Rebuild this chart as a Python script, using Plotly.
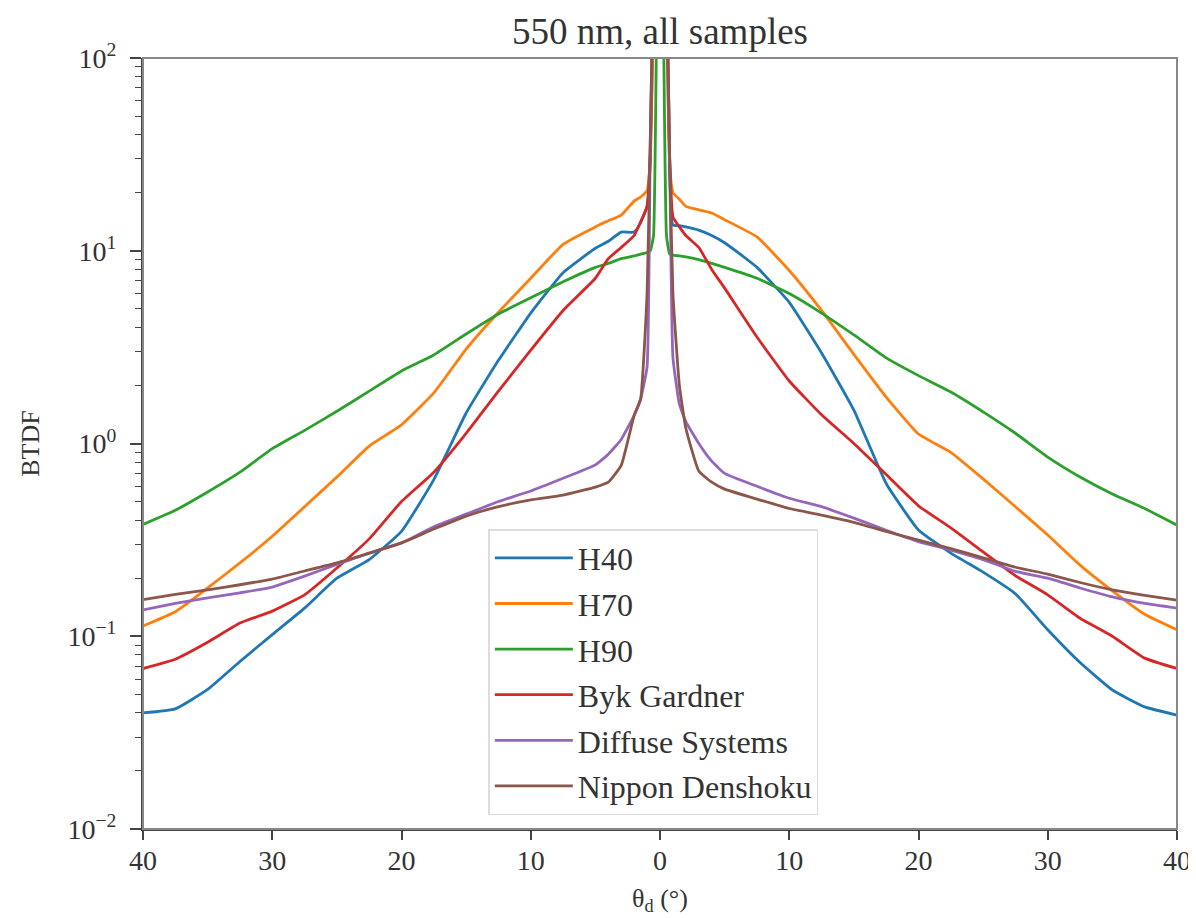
import plotly.graph_objects as go

# scattering angle grid (degrees), shared by all samples
theta = [-40, -37.5, -35, -32.5, -30, -27.5, -25, -22.5, -20, -17.5, -15, -12.5, -10, -7.5,
         -5, -4, -3, -2, -1.5, -1, -0.75, -0.5, 0, 0.5, 0.75, 1, 1.5, 2, 3, 4, 5, 7.5, 10,
         12.5, 15, 17.5, 20, 22.5, 25, 27.5, 30, 32.5, 35, 37.5, 40]

h40 = [0.040, 0.042, 0.053, 0.074, 0.102, 0.14, 0.20, 0.25, 0.35, 0.65, 1.44, 2.7, 4.75, 7.7,
       10.3, 11.2, 12.5, 12.5, 14.0, 17.0, 30, 200, 1e4, 200, 25, 13.6, 13.5, 13.3, 12.8, 12.0,
       11.0, 8.2, 5.4, 2.95, 1.49, 0.62, 0.356, 0.27, 0.215, 0.166, 0.108, 0.073, 0.0526, 0.043, 0.039]

h70 = [0.113, 0.134, 0.178, 0.24, 0.33, 0.47, 0.67, 0.97, 1.25, 1.83, 3.09, 4.8, 7.2, 10.8,
       13.3, 14.3, 15.3, 18.1, 19.0, 20.5, 30, 200, 1e4, 200, 28, 20.0, 18.5, 17.0, 16.3, 15.7,
       14.5, 11.8, 7.9, 4.9, 2.9, 1.74, 1.12, 0.90, 0.655, 0.47, 0.335, 0.234, 0.172, 0.13, 0.108]

h90 = [0.38, 0.45, 0.56, 0.71, 0.94, 1.17, 1.47, 1.87, 2.38, 2.88, 3.7, 4.7, 5.7, 6.9,
       8.2, 8.6, 9.1, 9.4, 9.6, 9.8, 10.0, 12.0, 1e4, 12.0, 9.6, 9.5, 9.4, 9.3, 9.0, 8.6,
       8.2, 7.2, 6.0, 4.75, 3.66, 2.78, 2.25, 1.85, 1.46, 1.13, 0.85, 0.67, 0.547, 0.46, 0.377]

byk = [0.068, 0.076, 0.093, 0.117, 0.135, 0.164, 0.226, 0.32, 0.50, 0.71, 1.13, 1.87, 3.05, 4.9,
       7.2, 9.1, 10.4, 12.0, 14.1, 17.0, 33, 300, 1e4, 300, 30, 15.0, 13.3, 12.0, 10.4, 8.0,
       6.4, 3.57, 2.11, 1.41, 1.0, 0.69, 0.475, 0.365, 0.274, 0.206, 0.164, 0.124, 0.10, 0.077, 0.068]

diffuse = [0.137, 0.148, 0.158, 0.168, 0.18, 0.205, 0.236, 0.27, 0.305, 0.37, 0.43, 0.50, 0.567, 0.66,
           0.775, 0.88, 1.05, 1.4, 1.7, 2.5, 38, 300, 1e4, 300, 30, 2.8, 1.6, 1.3, 1.0, 0.81,
           0.70, 0.60, 0.52, 0.47, 0.41, 0.355, 0.31, 0.28, 0.25, 0.217, 0.20, 0.178, 0.16, 0.148, 0.14]

nippon = [0.155, 0.165, 0.174, 0.185, 0.198, 0.218, 0.24, 0.27, 0.305, 0.36, 0.42, 0.47, 0.51, 0.54,
          0.594, 0.63, 0.77, 1.4, 1.7, 6.0, 38, 300, 1e4, 300, 30, 6.0, 2.0, 1.2, 0.72, 0.63,
          0.58, 0.515, 0.46, 0.425, 0.39, 0.35, 0.315, 0.285, 0.255, 0.228, 0.21, 0.19, 0.174, 0.163, 0.154]

series = [
    ("H40", h40, "#1f77b4"),
    ("H70", h70, "#ff7f0e"),
    ("H90", h90, "#2ca02c"),
    ("Byk Gardner", byk, "#d62728"),
    ("Diffuse Systems", diffuse, "#9467bd"),
    ("Nippon Denshoku", nippon, "#8c564b"),
]

x_ticks = [-40, -30, -20, -10, 0, 10, 20, 30, 40]
y_ticks = [0.01, 0.1, 1, 10, 100]
y_ticktext = ["10<sup>−2</sup>", "10<sup>−1</sup>", "10<sup>0</sup>", "10<sup>1</sup>", "10<sup>2</sup>"]
# minor ticks 2..9 in every decade
y_minor = [m * d for d in (0.01, 0.1, 1, 10) for m in range(2, 10)]

FONT = "Liberation Serif"
TXT = "#333"

fig = go.Figure()
for name, vals, color in series:
    fig.add_trace(go.Scatter(x=theta, y=vals, mode="lines", name=name, legendgroup=name,
                             line=dict(color=color, width=2.8, shape="spline", smoothing=0.4)))

# the page body keeps its default 8px margin, so the figure is 8px smaller
fig.update_layout(
    width=1188, height=910,
    margin=dict(l=135, r=19, t=50, b=89),
    paper_bgcolor="white", plot_bgcolor="white",
    font=dict(family=FONT, size=28, color=TXT),
    title=dict(text="550 nm, all samples", x=0.5, xref="paper", xanchor="center",
               y=0.975, yanchor="middle", font=dict(size=37, color=TXT)),
    showlegend=True,
    legend=dict(x=0.334, y=0.018, xanchor="left", yanchor="bottom",
                bgcolor="rgba(255,255,255,0.9)", bordercolor="#dddddd", borderwidth=1.5,
                font=dict(size=32, color=TXT), itemwidth=78, tracegroupgap=1),
    shapes=[dict(type="rect", xref="paper", yref="paper", x0=0, y0=0, x1=1, y1=1,
                 line=dict(color="#888", width=2), layer="above")],
    annotations=[dict(text="BTDF", xref="paper", yref="paper", x=-0.109, y=0.5,
                      xanchor="center", yanchor="middle", textangle=-90, showarrow=False,
                      font=dict(size=26, color=TXT))],
)

fig.update_xaxes(
    range=[-40, 40], tickvals=x_ticks, ticktext=[str(abs(v)) for v in x_ticks],
    ticks="outside", ticklen=9, tickwidth=1.5, tickcolor="#444", ticklabelstandoff=-4,
    showline=True, linecolor="#444", linewidth=2, automargin=False,
    showgrid=False, zeroline=False,
    title=dict(text="θ<sub>d</sub> (°)", standoff=14, font=dict(size=26)),
)
fig.update_yaxes(
    type="log", range=[-2, 2], tickvals=y_ticks, ticktext=y_ticktext,
    ticks="outside", ticklen=11, tickwidth=1.5, tickcolor="#444", ticklabelstandoff=8,
    minor=dict(ticks="outside", ticklen=6, tickwidth=1.2, tickcolor="#444",
               tickvals=y_minor, showgrid=False),
    showline=True, linecolor="#444", linewidth=2, automargin=False,
    showgrid=False, zeroline=False,
)

fig.write_html("out.html")
